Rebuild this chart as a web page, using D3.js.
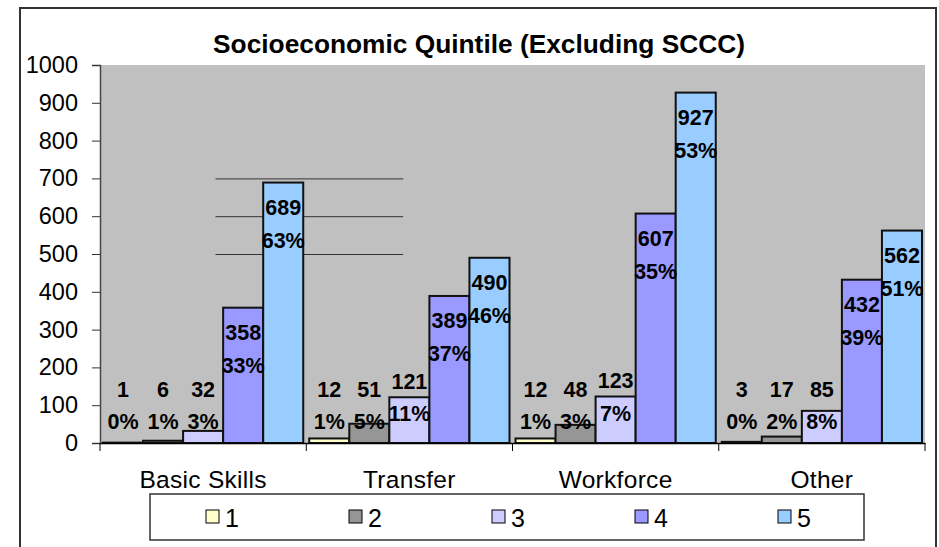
<!DOCTYPE html>
<html>
<head>
<meta charset="utf-8">
<script src="https://cdn.jsdelivr.net/npm/d3@7"></script>
<style>
  body { margin: 0; background: #fff; }
  svg { display: block; font-family: "Liberation Sans", Arial, sans-serif; }
</style>
</head>
<body>
<div id="chart"></div>
<script>
// Chart data
const categories = ["Basic Skills", "Transfer", "Workforce", "Other"];
const quintiles = ["1", "2", "3", "4", "5"];
const counts = [
  [1, 6, 32, 358, 689],
  [12, 51, 121, 389, 490],
  [12, 48, 123, 607, 927],
  [3, 17, 85, 432, 562]
];
const percents = [
  [0, 1, 3, 33, 63],
  [1, 5, 11, 37, 46],
  [1, 3, 7, 35, 53],
  [0, 2, 8, 39, 51]
];
const yTicks = [0, 100, 200, 300, 400, 500, 600, 700, 800, 900, 1000];
const markLines = [500, 600, 700];
const colors = ["#FFFFCC", "#969696", "#CCCCFF", "#9999FF", "#99CCFF"];

const svgWidth = 939;
const svgHeight = 547;
const margin = { top: 65, right: 14, bottom: 104, left: 100 };
const width = svgWidth - margin.left - margin.right;
const height = svgHeight - margin.top - margin.bottom;

const svg = d3.select("#chart").append("svg")
  .attr("width", svgWidth)
  .attr("height", svgHeight);

// outer chart frame
svg.append("rect")
  .attr("x", 20).attr("y", 8)
  .attr("width", 916).attr("height", 600)
  .attr("fill", "#fff")
  .attr("stroke", "#333")
  .attr("stroke-width", 2);

// title
svg.append("text")
  .attr("x", 479).attr("y", 53)
  .attr("text-anchor", "middle")
  .style("font-size", "26.3px")
  .style("font-weight", "bold")
  .text("Socioeconomic Quintile (Excluding SCCC)");

const chart = svg.append("g")
  .attr("transform", "translate(" + margin.left + "," + margin.top + ")");

// scales
const yScale = d3.scaleLinear().domain([0, 1000]).range([height, 0]);
const x0 = d3.scaleBand().domain(categories).range([0, width]).padding(0);
const x1 = d3.scaleBand().domain(quintiles).range([0, x0.bandwidth()])
  .paddingInner(0).paddingOuter(0.075);

// plot background
chart.append("rect")
  .attr("width", width).attr("height", height)
  .attr("fill", "#C0C0C0");

// the odd short lines at 500 / 600 / 700
chart.selectAll(".mark-line")
  .data(markLines)
  .enter().append("line")
  .attr("class", "mark-line")
  .attr("x1", x0(categories[0]) + x0.bandwidth() * 0.56)
  .attr("x2", x0(categories[1]) + x0.bandwidth() * 0.47)
  .attr("y1", d => yScale(d) + 0.5)
  .attr("y2", d => yScale(d) + 0.5)
  .attr("stroke", "#333")
  .attr("stroke-width", 1);

// flatten data
const bars = [];
categories.forEach((c, ci) => {
  quintiles.forEach((q, qi) => {
    bars.push({ cat: c, q: q, qi: qi, value: counts[ci][qi], pct: percents[ci][qi] });
  });
});

// bars
chart.selectAll(".bar")
  .data(bars)
  .enter().append("rect")
  .attr("class", "bar")
  .attr("x", d => x0(d.cat) + x1(d.q))
  .attr("y", d => yScale(d.value))
  .attr("width", x1.bandwidth())
  .attr("height", d => height - yScale(d.value))
  .attr("fill", d => colors[d.qi])
  .attr("stroke", "#111")
  .attr("stroke-width", 2);

// axes
const leftAxis = d3.axisLeft(yScale).tickValues(yTicks).tickFormat(d3.format("d"))
  .tickSize(8).tickPadding(14);
const yAxisG = chart.append("g").attr("class", "y-axis").call(leftAxis);
yAxisG.selectAll("text").style("font-size", "23.5px").attr("fill", "#000");
yAxisG.selectAll("line").attr("stroke", "#333");
yAxisG.select(".domain").attr("stroke", "#444").attr("stroke-width", 1.5);

const bottomAxis = d3.axisBottom(x0).tickSize(0).tickPadding(28);
const xAxisG = chart.append("g")
  .attr("class", "x-axis")
  .attr("transform", "translate(0," + height + ")")
  .call(bottomAxis);
xAxisG.selectAll("text").style("font-size", "24.5px").style("letter-spacing", "0.3px").attr("fill", "#000");
xAxisG.select(".domain").attr("stroke", "#000").attr("stroke-width", 1.5);

// category boundary ticks
const bounds = categories.map(c => x0(c)).concat([width]);
xAxisG.selectAll(".bound")
  .data(bounds)
  .enter().append("line")
  .attr("class", "bound")
  .attr("x1", d => d).attr("x2", d => d)
  .attr("y1", 0).attr("y2", 8)
  .attr("stroke", "#000");

// data labels: tall bars get them inside the top, short ones sit above the axis
function labelCenter(d) {
  if (d.value >= 200) return null;
  return yScale(Math.max(d.value, 100));
}

const labels = chart.selectAll(".lbl")
  .data(bars)
  .enter().append("g")
  .attr("class", "lbl")
  .style("font-size", "21.5px")
  .style("font-weight", "bold")
  .attr("text-anchor", "middle");

labels.append("text")
  .attr("x", d => x0(d.cat) + x1(d.q) + x1.bandwidth() / 2)
  .attr("y", d => {
    const c = labelCenter(d);
    return c === null ? yScale(d.value) + 25 : c - 16;
  })
  .attr("dy", "0.35em")
  .text(d => d.value);

labels.append("text")
  .attr("x", d => x0(d.cat) + x1(d.q) + x1.bandwidth() / 2)
  .attr("y", d => {
    const c = labelCenter(d);
    return c === null ? yScale(d.value) + 58 : c + 16.5;
  })
  .attr("dy", "0.35em")
  .text(d => d.pct + "%");

// legend
const legend = svg.append("g").attr("class", "legend");
legend.append("rect")
  .attr("x", 150).attr("y", 494)
  .attr("width", 714).attr("height", 46)
  .attr("fill", "#fff")
  .attr("stroke", "#333")
  .attr("stroke-width", 1.5);

const items = legend.selectAll(".item")
  .data(quintiles)
  .enter().append("g")
  .attr("class", "item")
  .attr("transform", (d, i) => "translate(" + (206 + i * 143) + ",510)");

items.append("rect")
  .attr("width", 13).attr("height", 13)
  .attr("fill", (d, i) => colors[i])
  .attr("stroke", "#000")
  .attr("stroke-width", 1);

items.append("text")
  .attr("x", 19).attr("y", 16.5)
  .style("font-size", "25px")
  .text(d => d);
</script>
</body>
</html>
